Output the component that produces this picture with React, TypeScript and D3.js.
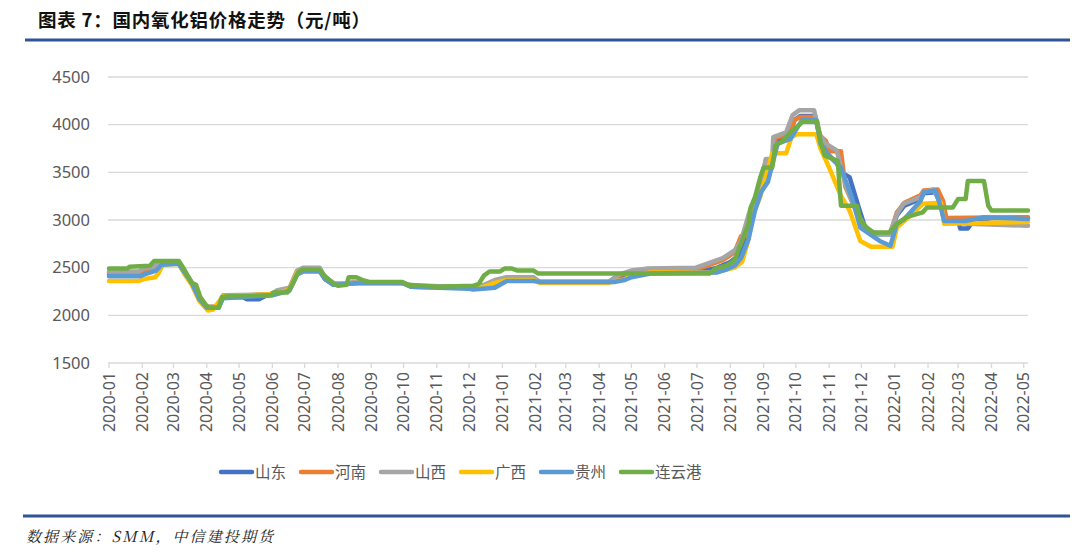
import React from "react";
import * as d3 from "d3";

type Pt = [string, number];

const seriesNames = ["山东", "河南", "山西", "广西", "贵州", "连云港"];
const seriesColors = ["#4472C4", "#ED7D31", "#A5A5A5", "#FFC000", "#5B9BD5", "#70AD47"];
const yTicks = [1500, 2000, 2500, 3000, 3500, 4000, 4500];

const shandong: Pt[] = [
  ["2020-01-01", 2430], ["2020-01-30", 2430], ["2020-02-03", 2450], ["2020-02-14", 2480], ["2020-02-19", 2540],
  ["2020-03-06", 2540], ["2020-03-12", 2430], ["2020-03-18", 2330], ["2020-03-25", 2170], ["2020-04-01", 2080],
  ["2020-04-12", 2080], ["2020-04-16", 2190], ["2020-05-05", 2190], ["2020-05-08", 2170], ["2020-05-20", 2170],
  ["2020-05-25", 2200], ["2020-06-01", 2230], ["2020-06-17", 2270], ["2020-06-24", 2440], ["2020-06-30", 2470],
  ["2020-07-15", 2470], ["2020-07-20", 2380], ["2020-07-28", 2320], ["2020-08-20", 2340], ["2020-09-30", 2340],
  ["2020-10-08", 2300], ["2020-11-30", 2290], ["2020-12-10", 2300], ["2020-12-25", 2330], ["2021-01-05", 2380],
  ["2021-01-30", 2380], ["2021-02-05", 2350], ["2021-04-10", 2350], ["2021-04-15", 2390], ["2021-04-22", 2400],
  ["2021-05-01", 2440], ["2021-05-20", 2460], ["2021-07-05", 2460], ["2021-07-20", 2500], ["2021-08-01", 2560],
  ["2021-08-10", 2640], ["2021-08-15", 2800], ["2021-08-22", 3050], ["2021-08-29", 3300], ["2021-09-03", 3550],
  ["2021-09-09", 3600], ["2021-09-12", 3830], ["2021-09-24", 3880], ["2021-09-30", 4050], ["2021-10-05", 4090],
  ["2021-10-19", 4090], ["2021-10-23", 3880], ["2021-10-30", 3700], ["2021-11-08", 3600], ["2021-11-12", 3500],
  ["2021-11-20", 3450], ["2021-11-28", 3150], ["2021-12-05", 2900], ["2021-12-12", 2850], ["2021-12-28", 2850],
  ["2022-01-03", 3050], ["2022-01-10", 3150], ["2022-01-25", 3220], ["2022-01-28", 3280], ["2022-02-08", 3290],
  ["2022-02-13", 3150], ["2022-02-16", 3000], ["2022-03-01", 3000], ["2022-03-03", 2910], ["2022-03-10", 2910],
  ["2022-03-14", 2980], ["2022-04-01", 3020], ["2022-05-05", 3020],
];

const henan: Pt[] = [
  ["2020-01-01", 2450], ["2020-01-30", 2450], ["2020-02-03", 2470], ["2020-02-14", 2500], ["2020-02-18", 2550],
  ["2020-03-06", 2550], ["2020-03-12", 2440], ["2020-03-18", 2340], ["2020-03-25", 2190], ["2020-04-01", 2090],
  ["2020-04-12", 2090], ["2020-04-16", 2200], ["2020-06-01", 2220], ["2020-06-17", 2280], ["2020-06-24", 2460],
  ["2020-06-30", 2490], ["2020-07-15", 2490], ["2020-07-20", 2390], ["2020-07-28", 2330], ["2020-08-15", 2340],
  ["2020-09-30", 2340], ["2020-10-08", 2310], ["2020-11-30", 2300], ["2020-12-15", 2310], ["2020-12-25", 2360],
  ["2021-01-05", 2390], ["2021-01-30", 2390], ["2021-02-05", 2350], ["2021-04-10", 2350], ["2021-04-20", 2420],
  ["2021-05-01", 2460], ["2021-05-15", 2480], ["2021-06-30", 2480], ["2021-07-10", 2520], ["2021-07-25", 2580],
  ["2021-08-05", 2660], ["2021-08-11", 2830], ["2021-08-18", 2850], ["2021-08-22", 3100], ["2021-08-29", 3350],
  ["2021-09-03", 3620], ["2021-09-09", 3630], ["2021-09-12", 3860], ["2021-09-24", 3900], ["2021-09-30", 4050],
  ["2021-10-05", 4080], ["2021-10-19", 4080], ["2021-10-24", 3880], ["2021-10-29", 3830], ["2021-11-01", 3720],
  ["2021-11-12", 3720], ["2021-11-16", 3350], ["2021-11-26", 3100], ["2021-12-05", 2900], ["2021-12-12", 2860],
  ["2021-12-28", 2860], ["2022-01-03", 3080], ["2022-01-10", 3180], ["2022-01-25", 3260], ["2022-01-28", 3310],
  ["2022-02-10", 3320], ["2022-02-15", 3200], ["2022-02-18", 3020], ["2022-05-05", 3030],
];

const shanxi: Pt[] = [
  ["2020-01-01", 2460], ["2020-01-29", 2460], ["2020-02-02", 2490], ["2020-02-12", 2510], ["2020-02-17", 2560],
  ["2020-03-06", 2560], ["2020-03-12", 2450], ["2020-03-18", 2350], ["2020-03-25", 2200], ["2020-04-01", 2090],
  ["2020-04-12", 2090], ["2020-04-16", 2210], ["2020-05-31", 2220], ["2020-06-05", 2260], ["2020-06-17", 2290],
  ["2020-06-24", 2470], ["2020-06-30", 2500], ["2020-07-15", 2500], ["2020-07-20", 2400], ["2020-07-28", 2340],
  ["2020-08-10", 2330], ["2020-08-15", 2350], ["2020-09-30", 2340], ["2020-10-10", 2310], ["2020-11-30", 2300],
  ["2020-12-15", 2320], ["2020-12-25", 2370], ["2021-01-05", 2400], ["2021-01-30", 2400], ["2021-02-05", 2350],
  ["2021-04-10", 2350], ["2021-04-20", 2430], ["2021-05-01", 2470], ["2021-05-15", 2490], ["2021-06-30", 2500],
  ["2021-07-10", 2540], ["2021-07-25", 2600], ["2021-08-05", 2680], ["2021-08-11", 2780], ["2021-08-19", 3090],
  ["2021-08-29", 3350], ["2021-09-03", 3640], ["2021-09-09", 3640], ["2021-09-10", 3870], ["2021-09-22", 3920],
  ["2021-09-28", 4100], ["2021-10-04", 4150], ["2021-10-18", 4150], ["2021-10-23", 3900], ["2021-10-29", 3800],
  ["2021-11-08", 3730], ["2021-11-17", 3340], ["2021-11-26", 3100], ["2021-12-06", 2890], ["2021-12-18", 2850],
  ["2021-12-27", 2850], ["2022-01-03", 3060], ["2022-01-09", 3170], ["2022-01-25", 3240], ["2022-01-28", 3290],
  ["2022-02-06", 3320], ["2022-02-13", 3170], ["2022-02-16", 2990], ["2022-03-10", 2960], ["2022-05-05", 2940],
];

const guangxi: Pt[] = [
  ["2020-01-01", 2360], ["2020-01-29", 2360], ["2020-02-02", 2380], ["2020-02-13", 2400], ["2020-02-16", 2440],
  ["2020-02-20", 2530], ["2020-03-06", 2540], ["2020-03-12", 2420], ["2020-03-18", 2320], ["2020-03-25", 2150],
  ["2020-04-02", 2050], ["2020-04-07", 2060], ["2020-04-10", 2110], ["2020-04-16", 2200], ["2020-06-01", 2220],
  ["2020-06-17", 2270], ["2020-06-24", 2450], ["2020-06-30", 2480], ["2020-07-15", 2480], ["2020-07-20", 2380],
  ["2020-07-28", 2330], ["2020-08-20", 2340], ["2020-09-30", 2340], ["2020-10-08", 2300], ["2020-11-30", 2290],
  ["2020-12-15", 2300], ["2020-12-25", 2340], ["2021-01-05", 2370], ["2021-01-30", 2370], ["2021-02-05", 2340],
  ["2021-04-10", 2340], ["2021-04-25", 2380], ["2021-05-01", 2420], ["2021-05-20", 2450], ["2021-07-15", 2450],
  ["2021-07-25", 2470], ["2021-08-05", 2500], ["2021-08-12", 2560], ["2021-08-18", 2800], ["2021-08-22", 3050],
  ["2021-08-29", 3250], ["2021-09-03", 3450], ["2021-09-09", 3700], ["2021-09-22", 3700], ["2021-09-27", 3870],
  ["2021-10-02", 3900], ["2021-10-20", 3900], ["2021-10-24", 3750], ["2021-11-01", 3550], ["2021-11-12", 3250],
  ["2021-11-20", 3100], ["2021-11-30", 2780], ["2021-12-10", 2720], ["2021-12-30", 2720], ["2022-01-03", 2920],
  ["2022-01-12", 3010], ["2022-01-27", 3170], ["2022-02-13", 3180], ["2022-02-16", 2960], ["2022-04-01", 2970],
  ["2022-05-05", 2980],
];

const guizhou: Pt[] = [
  ["2020-01-01", 2410], ["2020-01-30", 2410], ["2020-02-03", 2430], ["2020-02-14", 2470], ["2020-02-19", 2530],
  ["2020-03-06", 2540], ["2020-03-12", 2440], ["2020-03-18", 2340], ["2020-03-25", 2170], ["2020-04-01", 2080],
  ["2020-04-12", 2080], ["2020-04-16", 2180], ["2020-06-01", 2210], ["2020-06-17", 2260], ["2020-06-24", 2430],
  ["2020-06-30", 2460], ["2020-07-15", 2460], ["2020-07-20", 2380], ["2020-07-28", 2320], ["2020-08-20", 2340],
  ["2020-09-30", 2340], ["2020-10-08", 2300], ["2020-11-30", 2280], ["2020-12-05", 2270], ["2020-12-25", 2290],
  ["2021-01-05", 2360], ["2021-01-30", 2360], ["2021-02-05", 2350], ["2021-04-15", 2350], ["2021-04-25", 2370],
  ["2021-05-01", 2400], ["2021-05-20", 2440], ["2021-07-20", 2450], ["2021-07-28", 2480], ["2021-08-05", 2520],
  ["2021-08-11", 2600], ["2021-08-18", 2800], ["2021-08-24", 3100], ["2021-08-30", 3300], ["2021-09-05", 3400],
  ["2021-09-10", 3620], ["2021-09-14", 3800], ["2021-09-26", 3850], ["2021-10-03", 3980], ["2021-10-07", 4050],
  ["2021-10-20", 4050], ["2021-10-24", 3800], ["2021-11-02", 3660], ["2021-11-12", 3550], ["2021-11-22", 3240],
  ["2021-11-30", 2920], ["2021-12-18", 2780], ["2021-12-28", 2730], ["2022-01-03", 2960], ["2022-01-10", 3010],
  ["2022-01-25", 3200], ["2022-01-28", 3290], ["2022-02-08", 3310], ["2022-02-13", 3130], ["2022-02-16", 2990],
  ["2022-03-08", 2990], ["2022-03-25", 3030], ["2022-05-05", 3010],
];

const lianyungang: Pt[] = [
  ["2020-01-01", 2490], ["2020-01-18", 2490], ["2020-01-20", 2510], ["2020-02-08", 2520], ["2020-02-12", 2570],
  ["2020-03-06", 2570], ["2020-03-10", 2500], ["2020-03-14", 2420], ["2020-03-18", 2340], ["2020-03-22", 2320],
  ["2020-03-26", 2190], ["2020-03-31", 2110], ["2020-04-03", 2080], ["2020-04-12", 2080], ["2020-04-15", 2190],
  ["2020-04-20", 2200], ["2020-05-31", 2210], ["2020-06-02", 2240], ["2020-06-15", 2240], ["2020-06-20", 2330],
  ["2020-06-25", 2450], ["2020-06-29", 2480], ["2020-07-15", 2480], ["2020-07-19", 2420], ["2020-07-27", 2340],
  ["2020-08-01", 2310], ["2020-08-09", 2320], ["2020-08-11", 2400], ["2020-08-18", 2400], ["2020-08-24", 2370],
  ["2020-08-30", 2350], ["2020-09-30", 2350], ["2020-10-05", 2320], ["2020-11-01", 2300], ["2020-12-05", 2310],
  ["2020-12-10", 2330], ["2020-12-15", 2420], ["2020-12-20", 2460], ["2020-12-30", 2460], ["2021-01-03", 2490],
  ["2021-01-10", 2490], ["2021-01-15", 2470], ["2021-01-30", 2470], ["2021-02-03", 2440], ["2021-07-13", 2440],
  ["2021-07-18", 2490], ["2021-07-28", 2520], ["2021-08-03", 2560], ["2021-08-06", 2600], ["2021-08-09", 2700],
  ["2021-08-11", 2750], ["2021-08-18", 2960], ["2021-08-20", 3130], ["2021-08-24", 3240], ["2021-08-29", 3450],
  ["2021-09-01", 3550], ["2021-09-09", 3550], ["2021-09-12", 3780], ["2021-09-19", 3830], ["2021-09-26", 3920],
  ["2021-10-02", 3975], ["2021-10-07", 4030], ["2021-10-21", 4030], ["2021-10-24", 3815], ["2021-10-28", 3675],
  ["2021-11-09", 3620], ["2021-11-12", 3150], ["2021-11-27", 3150], ["2021-11-30", 3000], ["2021-12-06", 2920],
  ["2021-12-12", 2870], ["2021-12-27", 2870], ["2022-01-03", 2960], ["2022-01-12", 3030], ["2022-01-27", 3080],
  ["2022-01-31", 3130], ["2022-02-24", 3130], ["2022-03-01", 3220], ["2022-03-08", 3220], ["2022-03-10", 3410],
  ["2022-03-25", 3410], ["2022-03-29", 3150], ["2022-04-01", 3100], ["2022-05-05", 3100],
];

const seriesData: Pt[][] = [shandong, henan, shanxi, guangxi, guizhou, lianyungang];

const parse = d3.timeParse("%Y-%m-%d");

export default function App() {
  const W = 1080;
  const H = 554;
  const left = 109;
  const right = 1028;
  const top = 77;
  const bottom = 363;

  const x = d3
    .scaleTime()
    .domain([parse("2020-01-01") as Date, parse("2022-05-05") as Date])
    .range([left, right]);
  const y = d3.scaleLinear().domain([1500, 4500]).range([bottom, top]);

  const months = d3.timeMonth.range(parse("2020-01-01") as Date, parse("2022-05-02") as Date);
  const fmt = d3.timeFormat("%Y-%m");

  const line = d3
    .line<Pt>()
    .x((d) => x(parse(d[0]) as Date))
    .y((d) => y(d[1]));

  const axisFont = "'Noto Sans', 'DejaVu Sans', sans-serif";
  const cjkFont = "'Noto Sans CJK SC', 'Noto Sans', sans-serif";

  return (
    <svg
      width={W}
      height={H}
      style={{ position: "absolute", left: 0, top: 0, background: "#fff" }}
    >
      <rect x={0} y={0} width={W} height={H} fill="#fff" />
      {/* title */}
      <text x={38} y={27} fontFamily={cjkFont} fontWeight={700} fontSize={18.5} fill="#111" textLength={332}>
        图表 7：国内氧化铝价格走势（元/吨）
      </text>
      <line x1={25} x2={1070} y1={40} y2={40} stroke="#2F5597" strokeWidth={3} />

      {/* gridlines */}
      {yTicks.map((t) => (
        <line
          key={t}
          x1={left - 1}
          x2={right}
          y1={y(t)}
          y2={y(t)}
          stroke="#D9D9D9"
          strokeWidth={1.3}
        />
      ))}
      {/* y labels */}
      {yTicks.map((t) => (
        <text
          key={"l" + t}
          x={90}
          y={y(t)}
          dy="0.35em"
          textAnchor="end"
          fontFamily={axisFont}
          fontSize={16.5}
          fill="#595959"
        >
          {t}
        </text>
      ))}
      {/* x ticks and labels */}
      {months.map((m) => (
        <g key={m.getTime()}>
          <line x1={x(m)} x2={x(m)} y1={bottom} y2={bottom + 5} stroke="#D9D9D9" strokeWidth={1.3} />
          <text
            transform={`translate(${x(m)},${bottom + 9}) rotate(-90)`}
            dy="0.35em"
            textAnchor="end"
            fontFamily={axisFont}
            fontSize={16}
            fill="#595959"
          >
            {fmt(m)}
          </text>
        </g>
      ))}

      {/* series */}
      {seriesData.map((s, i) => (
        <path
          key={seriesNames[i]}
          d={line(s) || ""}
          fill="none"
          stroke={seriesColors[i]}
          strokeWidth={4.5}
          strokeLinejoin="round"
          strokeLinecap="round"
        />
      ))}

      {/* legend */}
      {seriesNames.map((n, i) => (
        <g key={"lg" + n} transform={`translate(${220 + i * 80},472)`}>
          <line x1={1} x2={32} y1={0} y2={0} stroke={seriesColors[i]} strokeWidth={4.5} strokeLinecap="round" />
          <text x={35} y={0} dy="0.36em" fontFamily={cjkFont} fontSize={15.5} fill="#595959">
            {n}
          </text>
        </g>
      ))}

      {/* footer */}
      <line x1={23} x2={1070} y1={516} y2={516} stroke="#2F5597" strokeWidth={3} />
      <text
        x={26}
        y={542}
        fontFamily="'Noto Serif CJK SC', 'Noto Sans CJK SC', serif"
        fontStyle="italic"
        fontSize={15}
        fill="#222"
        textLength={247}
      >
        数据来源：SMM，中信建投期货
      </text>
    </svg>
  );
}
